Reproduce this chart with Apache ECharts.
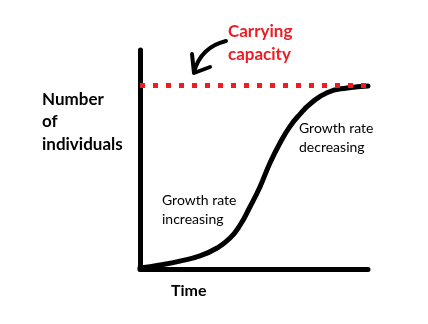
<!DOCTYPE html>
<html><head><meta charset="utf-8">
<script src="https://cdn.jsdelivr.net/npm/echarts@6/dist/echarts.min.js"></script>
<style>html,body{margin:0;padding:0;background:#fff}#c{width:428px;height:324px}</style>
</head><body><div id="c"></div>
<script>
// Time (0-100) and number of individuals (carrying capacity = 100)
const timeValues = [0, 8.8, 17.5, 26.3, 33.8, 39.5, 43.9, 48.2, 52.6, 57, 61.4, 65.8, 70.2, 74.6, 82, 90.8, 100];
const populationValues = [0.5, 2.2, 4.3, 7.1, 11.4, 16.8, 23.9, 33.7, 44.6, 57.6, 68.5, 77.5, 84.2, 89.7, 95.8, 98.4, 99.5];
const carryingCapacity = 100;
const labels = {
  capacity: 'Carrying\ncapacity',
  yTitle: 'Number\nof\nindividuals',
  xTitle: 'Time',
  early: 'Growth rate\nincreasing',
  late: 'Growth rate\ndecreasing'
};

const chart = echarts.init(document.getElementById('c'), null, {renderer: 'canvas'});
const FONT = 'Lato, "Open Sans", sans-serif';
chart.setOption({
  animation: false,
  backgroundColor: '#fff',
  grid: {left: 140, right: 60, top: 50, bottom: 55},
  xAxis: {
    type: 'value', min: 0, max: 100,
    axisLine: {show: true, onZero: false, lineStyle: {color: '#000', width: 5, cap: 'round'}},
    axisTick: {show: false}, axisLabel: {show: false}, splitLine: {show: false}
  },
  yAxis: {
    type: 'value', min: 0, max: 119,
    axisLine: {show: true, onZero: false, lineStyle: {color: '#000', width: 5, cap: 'round'}},
    axisTick: {show: false}, axisLabel: {show: false}, splitLine: {show: false}
  },
  series: [{
    type: 'line',
    data: timeValues.map((t, i) => [t, populationValues[i]]),
    smooth: 0.5,
    showSymbol: false,
    lineStyle: {color: '#000', width: 5, cap: 'round', join: 'round'},
    markLine: {
      silent: true,
      symbol: 'none',
      label: {show: false},
      lineStyle: {color: '#ed1c24', width: 5, type: [5, 8]},
      data: [{yAxis: carryingCapacity}]
    }
  }],
  graphic: [
    {type: 'text', left: 228, top: 20, style: {text: labels.capacity, fill: '#ed1c24', font: 'bold 17px ' + FONT, lineHeight: 23}},
    {type: 'text', left: 42, top: 88, style: {text: labels.yTitle, fill: '#000', font: 'bold 17px ' + FONT, lineHeight: 22.5}},
    {type: 'text', left: 171, top: 283, style: {text: labels.xTitle, fill: '#000', font: 'bold 16px ' + FONT}},
    {type: 'text', left: 162, top: 191, style: {text: labels.early, fill: '#000', font: '14px ' + FONT, lineHeight: 19}},
    {type: 'text', left: 299, top: 119, style: {text: labels.late, fill: '#000', font: '14px ' + FONT, lineHeight: 19}},
    {type: 'bezierCurve', shape: {x1: 226, y1: 41, cpx1: 201, cpy1: 47, x2: 194, y2: 72}, style: {stroke: '#000', lineWidth: 4, fill: null, lineCap: 'round'}},
    {type: 'polyline', shape: {points: [[192, 54], [194, 73], [210, 67]]}, style: {stroke: '#000', lineWidth: 4, fill: null, lineCap: 'round', lineJoin: 'round'}}
  ]
});
</script></body></html>
